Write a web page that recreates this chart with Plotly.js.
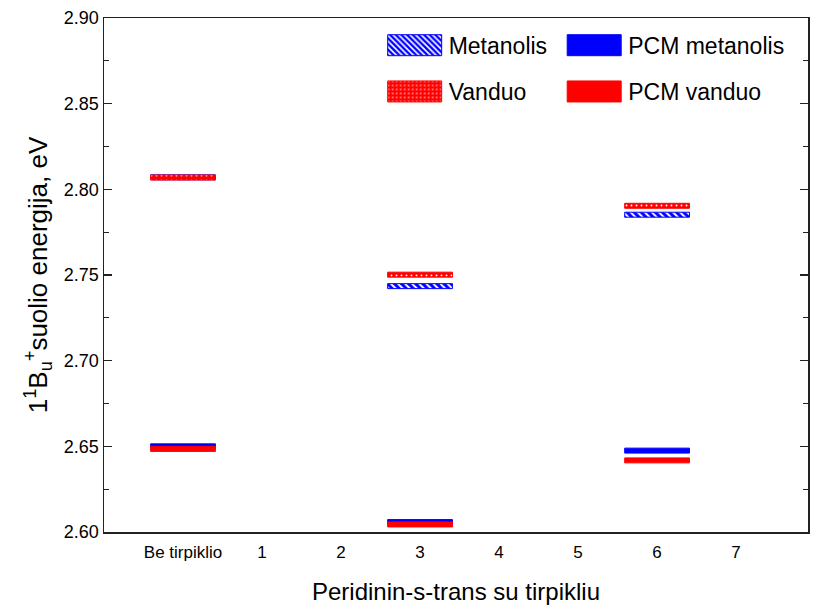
<!DOCTYPE html>
<html>
<head>
<meta charset="utf-8">
<script src="https://cdn.plot.ly/plotly-3.0.1.min.js"></script>
<style>
body{margin:0;background:#fff}
#chart{width:816px;height:605px}
/* wide legend swatches, as in the original */
.legendpoints path{d:path("M27,10.5H-27V-10.5H27Z");}
</style>
</head>
<body>
<div id="chart"></div>
<script>
// ---- data ----
const tickLabels = ["Be tirpiklio", "1", "2", "3", "4", "5", "6", "7"];
const groups = ["Be tirpiklio", "3", "6"];
const metanolis = [2.8070, 2.7435, 2.7852];
const vanduo = [2.8069, 2.7502, 2.7904];
const pcmMetanolis = [2.6500, 2.6058, 2.6475];
const pcmVanduo = [2.6485, 2.6044, 2.6418];
const seriesNames = ["Metanolis", "Vanduo", "PCM metanolis", "PCM vanduo"];

// ---- styling ----
const BLUE = "#0000ff", RED = "#ff0000";
const THICK = 0.0029;   // thickness of each level mark, in eV
const BARW = 0.82;
const FONT = "Liberation Sans, Arial, sans-serif";

const xs = groups.map(g => tickLabels.indexOf(g));
const tickIdx = tickLabels.map((_, i) => i);

function level(name, vals, color, pattern, legendId) {
  return {
    type: "bar",
    name: name,
    x: xs,
    y: vals.map(() => THICK),
    base: vals.map(v => v - THICK / 2),
    width: BARW,
    legend: legendId,
    marker: {
      color: color,
      line: {color: color, width: 1},
      pattern: pattern
    },
    hoverinfo: "skip"
  };
}

const traces = [
  level(seriesNames[0], metanolis, BLUE,
        {shape: "\\", bgcolor: BLUE, fgcolor: "#ffffff", size: 5, solidity: 0.4, fillmode: "replace"}, "legend"),
  level(seriesNames[1], vanduo, RED,
        {shape: ".", bgcolor: RED, fgcolor: "#ffffff", size: 5, solidity: 0.12, fillmode: "replace"}, "legend2"),
  level(seriesNames[2], pcmMetanolis, BLUE, {shape: ""}, "legend3"),
  level(seriesNames[3], pcmVanduo, RED, {shape: ""}, "legend4")
];

function legendAt(px, py) {
  return {
    x: px, y: py,
    xanchor: "left",
    yanchor: "middle",
    bgcolor: "rgba(0,0,0,0)",
    borderwidth: 0,
    itemwidth: 58,
    font: {family: FONT, size: 23, color: "#000"}
  };
}

const layout = {
  width: 816,
  height: 605,
  margin: {l: 104, r: 8, t: 18, b: 73},
  paper_bgcolor: "#fff",
  plot_bgcolor: "#fff",
  barmode: "overlay",
  font: {family: FONT, color: "#000"},
  showlegend: true,
  legend: legendAt(0.393, 0.947),
  legend2: legendAt(0.393, 0.857),
  legend3: legendAt(0.648, 0.947),
  legend4: legendAt(0.648, 0.857),
  xaxis: {
    range: [-1, 7.91],
    tickmode: "array",
    tickvals: tickIdx,
    ticktext: tickLabels,
    ticks: "",
    showgrid: false,
    zeroline: false,
    showline: true,
    linecolor: "#222",
    linewidth: 1.5,
    mirror: true,
    tickfont: {family: FONT, size: 17, color: "#000"},
    ticklabelstandoff: 4,
    title: {text: "Peridinin-s-trans su tirpikliu", font: {family: FONT, size: 24, color: "#000"}, standoff: 23}
  },
  xaxis2: {
    overlaying: "x",
    anchor: "y",
    side: "top",
    range: [-1, 7.91],
    tickmode: "array",
    tickvals: tickIdx,
    showticklabels: false,
    ticks: "inside",
    ticklen: 8,
    tickwidth: 1.2,
    tickcolor: "#222",
    showgrid: false,
    zeroline: false,
    showline: false
  },
  yaxis: {
    range: [2.60, 2.90],
    dtick: 0.05,
    tick0: 2.60,
    tickformat: ".2f",
    ticks: "inside",
    ticklen: 8,
    tickwidth: 1.2,
    tickcolor: "#222",
    minor: {dtick: 0.025, ticks: "inside", ticklen: 5, tickwidth: 1.2, tickcolor: "#222"},
    showgrid: false,
    zeroline: false,
    showline: true,
    linecolor: "#222",
    linewidth: 1.5,
    mirror: "allticks",
    tickfont: {family: FONT, size: 18, color: "#000"},
    title: {text: "1<sup>1</sup>B<sub>u</sub><sup>+</sup>suolio energija, eV", font: {family: FONT, size: 26, color: "#000"}, standoff: 9}
  }
};

function widenSwatches(gd) {
  gd.querySelectorAll(".legendpoints path").forEach(p => p.setAttribute("d", "M27,10.5H-27V-10.5H27Z"));
}

Plotly.newPlot("chart", traces, layout, {staticPlot: true, displayModeBar: false}).then(gd => {
  widenSwatches(gd);
  gd.on("plotly_afterplot", () => widenSwatches(gd));
  setTimeout(() => widenSwatches(gd), 400);
});
</script>
</body>
</html>
